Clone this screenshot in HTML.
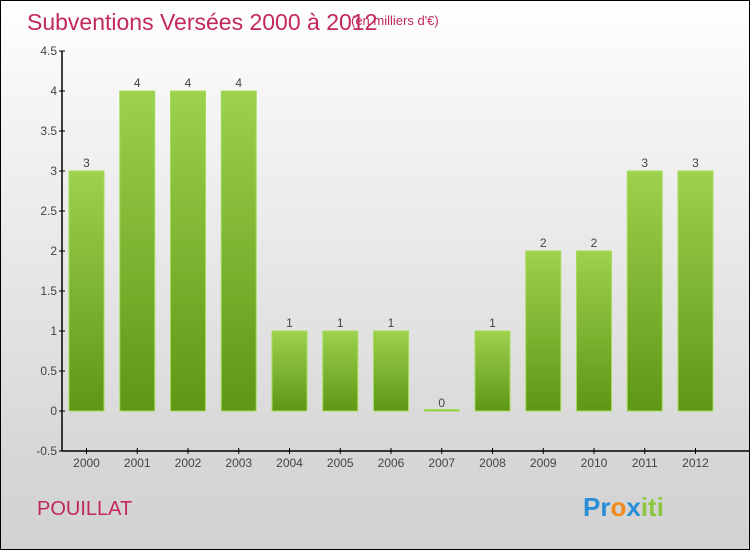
<!DOCTYPE html>
<html><head><meta charset="utf-8"><style>
html,body{margin:0;padding:0}
body{width:750px;height:550px;overflow:hidden;font-family:"Liberation Sans",sans-serif}
#wrap{position:relative;width:748px;height:548px;border:1px solid #000;background:linear-gradient(#ffffff,#f4f4f4 20%,#d6d6d6 85%,#d2d2d2)}
</style></head><body>
<div id="wrap">
<svg width="748" height="548" style="position:absolute;left:0;top:0">
<defs><linearGradient id="bg" x1="0" y1="0" x2="0" y2="1"><stop offset="0" stop-color="#9dd14e"/><stop offset="1" stop-color="#5e9714"/></linearGradient></defs>
<text x="26" y="29" font-size="23" fill="#c2285a">Subventions Versées 2000 à 2012</text>
<text x="350" y="24" font-size="13" fill="#c2285a">(en milliers d'€)</text>
<text x="36" y="514" font-size="20" fill="#c2285a">POUILLAT</text>
<g font-size="26" font-weight="bold">
<text x="582" y="515"><tspan fill="#2a8fd6">Pr</tspan><tspan fill="#f08a1a">o</tspan><tspan fill="#2a8fd6">x</tspan><tspan fill="#8bc63f">iti</tspan></text></g>
<g id="plot"></g>
</svg></div>
<script>
const categories=["2000","2001","2002","2003","2004","2005","2006","2007","2008","2009","2010","2011","2012"];
const values=[3,4,4,4,1,1,1,0,1,2,2,3,3];
const tickLabels=["-0.5","0","0.5","1","1.5","2","2.5","3","3.5","4","4.5"];
const tickValues=[-0.5,0,0.5,1,1.5,2,2.5,3,3.5,4,4.5];
const NS="http://www.w3.org/2000/svg";
const g=document.getElementById('plot');
const y=v=>410-v*80;
const x=i=>85.5+i*50.75;
function mk(t,a){const e=document.createElementNS(NS,t);for(const k in a)e.setAttribute(k,a[k]);g.appendChild(e);return e;}
let ax=mk('line',{x1:61,y1:y(4.5),x2:61,y2:y(-0.5),stroke:'#000','stroke-width':1.5});


let bx=mk('line',{x1:61,y1:y(-0.5),x2:748,y2:y(-0.5),stroke:'#000','stroke-width':1.5});


tickValues.forEach((v,i)=>{
 mk('line',{x1:58,x2:64,y1:y(v),y2:y(v),stroke:'#000'});
 const t=mk('text',{x:56,y:y(v)+4,'text-anchor':'end','font-size':12,fill:'#444'});t.textContent=tickLabels[i];
 
 
});
categories.forEach((c,i)=>{
 const cx=x(i);
 mk('line',{x1:cx,x2:cx,y1:y(-0.5)-3,y2:y(-0.5)+3,stroke:'#000'});
 const t=mk('text',{x:cx,y:466,'text-anchor':'middle','font-size':12,fill:'#444'});t.textContent=c;
 
 
 const v=values[i];const top=y(v),h=Math.max(y(0)-top,1.5);
 const r=mk('rect',{x:cx-17.5,y:Math.min(top,y(0)-1.5),width:35,height:h,fill:'url(#bg)',stroke:'#a6dc5a','stroke-width':1});
 
 
 const l=mk('text',{x:cx,y:top-4,'text-anchor':'middle','font-size':12,fill:'#444'});l.textContent=v;
 
 
});
</script>
</body></html>
